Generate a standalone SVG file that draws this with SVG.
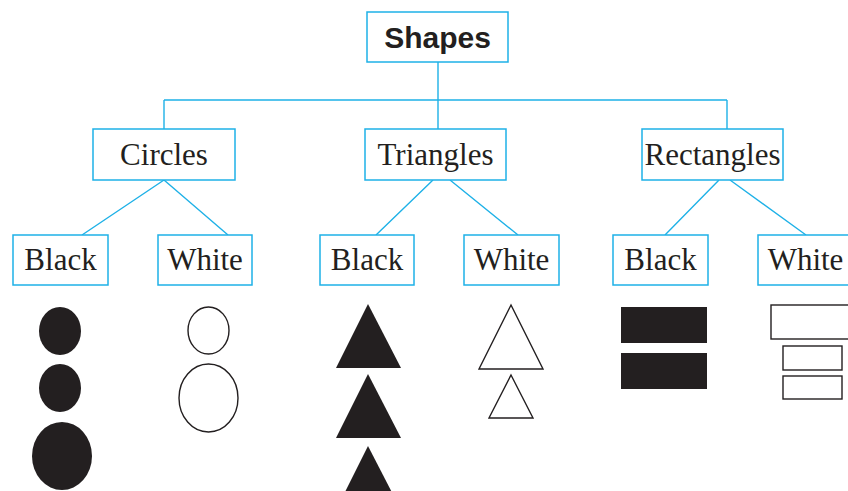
<svg xmlns="http://www.w3.org/2000/svg" width="848" height="491" viewBox="0 0 848 491">
<style>
.box{fill:#fff;stroke:#1eb1e7;stroke-width:1.5}
.conn{fill:none;stroke:#1eb1e7;stroke-width:1.4}
.lbl{font-family:"Liberation Serif","Times New Roman",serif;font-size:31px;fill:#231f20;text-anchor:middle}
.title{font-family:"Liberation Sans",Arial,sans-serif;font-weight:bold;font-size:30px;fill:#231f20;text-anchor:middle}
.blk{fill:#231f20;stroke:none}
.wht{fill:#fff;stroke:#231f20;stroke-width:1.4}
</style>
<rect width="848" height="491" fill="#fff"/>
<g id="connectors">
<path class="conn" d="M438 62V100M164 100H727M164 100V129M438 100V129M727 100V129"/>
<path class="conn" d="M164 180L82 235M164 180L228 235"/>
<path class="conn" d="M433 180L376 235M450 180L518 235"/>
<path class="conn" d="M719 180L665 235M730 180L806 235"/>
</g>
<g id="shapes"><rect class="box" x="367" y="12" width="141" height="50"/><text class="title" x="437.5" y="48">Shapes</text></g>
<g id="circles"><rect class="box" x="93" y="129" width="142" height="51"/><text class="lbl" x="164" y="165">Circles</text></g>
<g id="triangles"><rect class="box" x="365" y="129" width="141" height="51"/><text class="lbl" x="435.5" y="165">Triangles</text></g>
<g id="rectangles"><rect class="box" x="642" y="129" width="141" height="51"/><text class="lbl" x="712.5" y="165">Rectangles</text></g>
<g id="circles-black"><rect class="box" x="13" y="235" width="95" height="50"/><text class="lbl" x="60.5" y="270">Black</text></g>
<g id="circles-white"><rect class="box" x="158" y="235" width="94" height="50"/><text class="lbl" x="205" y="270">White</text></g>
<g id="triangles-black"><rect class="box" x="320" y="235" width="94" height="50"/><text class="lbl" x="367" y="270">Black</text></g>
<g id="triangles-white"><rect class="box" x="464" y="235" width="95" height="50"/><text class="lbl" x="511.5" y="270">White</text></g>
<g id="rectangles-black"><rect class="box" x="613" y="235" width="95" height="50"/><text class="lbl" x="660.5" y="270">Black</text></g>
<g id="rectangles-white"><rect class="box" x="758" y="235" width="95" height="50"/><text class="lbl" x="805.5" y="270">White</text></g>
<g id="circle-shapes">
<ellipse class="blk" cx="60" cy="331" rx="21" ry="24"/>
<ellipse class="blk" cx="60" cy="388" rx="21" ry="24"/>
<ellipse class="blk" cx="62" cy="456" rx="30" ry="34"/>
<ellipse class="wht" cx="208.5" cy="330.5" rx="20.5" ry="23.5"/>
<ellipse class="wht" cx="208.5" cy="398" rx="29.5" ry="34"/>
</g>
<g id="triangle-shapes">
<polygon class="blk" points="368,304 401,368 336,368"/>
<polygon class="blk" points="368,374 401,438 336,438"/>
<polygon class="blk" points="368,446 401,510 336,510"/>
<polygon class="wht" points="511,305 543,369 479,369"/>
<polygon class="wht" points="511,375 533,418 489,418"/>
</g>
<g id="rectangle-shapes">
<rect class="blk" x="621" y="307" width="86" height="36"/>
<rect class="blk" x="621" y="353" width="86" height="36"/>
<rect class="wht" x="771" y="305" width="85" height="34"/>
<rect class="wht" x="783" y="346" width="59" height="24"/>
<rect class="wht" x="783" y="376" width="59" height="23"/>
</g>
</svg>
